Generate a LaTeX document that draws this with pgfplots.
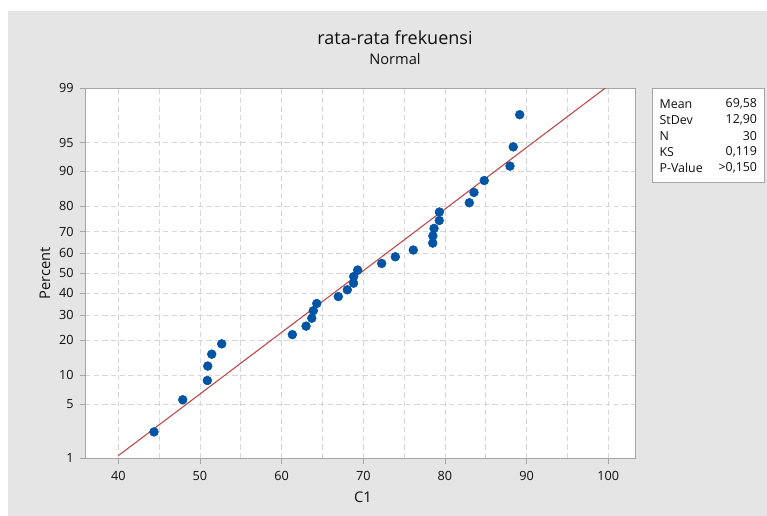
\documentclass[border=0pt]{standalone}
\usepackage{fontspec}
\setmainfont{Open Sans}
\usepackage{pgfplots}
\usepackage{pgfplotstable}
\pgfplotsset{compat=1.18}
\definecolor{bgray}{RGB}{229,229,229}
\definecolor{mblue}{RGB}{0,84,166}
\definecolor{mred}{RGB}{190,70,70}
\definecolor{gridc}{RGB}{214,214,214}
\definecolor{axc}{RGB}{165,165,165}
\definecolor{txt}{RGB}{15,15,15}

% x = observed value, z = normal score of median rank (i-0.3)/(n+0.4)
\pgfplotstableread{
x z
44.37 -1.9945
47.89 -1.5900
50.90 -1.3481
50.95 -1.1665
51.44 -1.0169
52.66 -0.8871
61.31 -0.7709
62.99 -0.6642
63.69 -0.5646
63.88 -0.4703
64.30 -0.3800
66.94 -0.2927
68.04 -0.2076
68.80 -0.1240
68.82 -0.0412
69.31 0.0412
72.25 0.1240
73.92 0.2076
76.12 0.2927
78.50 0.3800
78.52 0.4703
78.66 0.5646
79.30 0.6642
79.32 0.7709
82.98 0.8871
83.55 1.0169
84.81 1.1665
87.96 1.3481
88.36 1.5900
89.15 1.9945
}\pts

\pgfplotstableread{
x z
40 -2.2930
100 2.3581
}\fit

\begin{document}
\begin{tikzpicture}
\useasboundingbox (0,0) rectangle (575.25pt,-387pt);
\fill[white] (0,0) rectangle (575.25pt,-387pt);
\fill[bgray] (6pt,-8.25pt) rectangle (575.25pt,-387pt);
\begin{axis}[
  at={(63.75pt,-343.725pt)}, anchor=south west,
  scale only axis, width=412.5pt, height=277.5pt,
  xmin=35.92, xmax=103.27, ymin=-2.3263, ymax=2.3263,
  axis background/.style={fill=white},
  axis line style={draw=axc, line width=0.6pt},
  xtick={40,50,60,70,80,90,100},
  xticklabels={40,50,60,70,80,90,100},
  minor xtick={45,55,65,75,85,95},
  ytick={-2.3263,-1.6449,-1.2816,-0.8416,-0.5244,-0.2533,0,0.2533,0.5244,0.8416,1.2816,1.6449,2.3263},
  yticklabels={1,5,10,20,30,40,50,60,70,80,90,95,99},
  tick align=outside, tick pos=left,
  major tick length=4pt, minor tick length=0pt,
  tick style={draw=axc, line width=0.6pt},
  grid=both,
  major grid style={draw=gridc, dash pattern=on 4pt off 2.5pt, line width=0.6pt},
  minor grid style={draw=gridc, dash pattern=on 4pt off 2.5pt, line width=0.6pt},
  ticklabel style={font=\fontsize{9.5}{11}\selectfont, text=txt},
  xticklabel style={yshift=-2pt},
  yticklabel style={xshift=-1pt},
  clip=true,
]
\addplot[mred, line width=0.8pt, no marks] table[x=x, y=z] {\fit};
\addplot[only marks, mark=*, mark size=3.3pt, mark options={fill=mblue, draw=mblue}] table[x=x, y=z] {\pts};
\end{axis}
% titles and labels
\node[text=txt, font=\fontsize{13.5}{16}\selectfont] at (296.25pt,-28.5pt) {rata-rata frekuensi};
\node[text=txt, font=\fontsize{11}{13}\selectfont] at (296.25pt,-44pt) {Normal};
\node[text=txt, font=\fontsize{11}{13}\selectfont] at (272.25pt,-373pt) {C1};
\node[text=txt, font=\fontsize{11}{13}\selectfont, rotate=90] at (33.75pt,-204.75pt) {Percent};
% stats box
\draw[axc, fill=white, line width=0.6pt] (489pt,-66pt) rectangle (573pt,-136.5pt);
\begin{scope}[every node/.style={text=txt, font=\fontsize{9.3}{11}\selectfont, inner sep=0pt}]
\node[anchor=west] at (494.5pt,-78pt) {Mean};
\node[anchor=east] at (568pt,-78pt) {69,58};
\node[anchor=west] at (494.5pt,-90pt) {StDev};
\node[anchor=east] at (568pt,-90pt) {12,90};
\node[anchor=west] at (494.5pt,-102pt) {N};
\node[anchor=east] at (568pt,-102pt) {30};
\node[anchor=west] at (494.5pt,-114pt) {KS};
\node[anchor=east] at (568pt,-114pt) {0,119};
\node[anchor=west] at (494.5pt,-126pt) {P-Value};
\node[anchor=east] at (568pt,-126pt) {>0,150};
\end{scope}
\end{tikzpicture}
\end{document}
